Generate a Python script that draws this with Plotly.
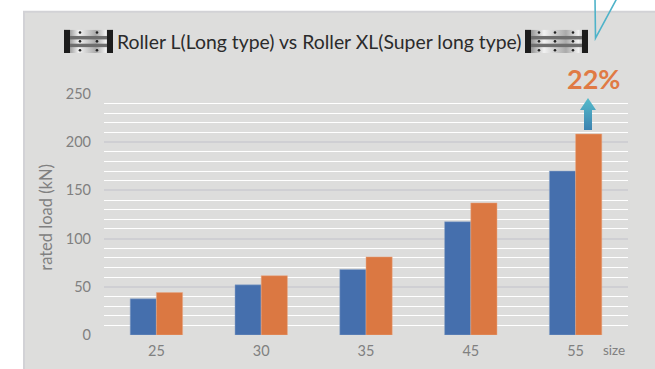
import base64
import plotly.graph_objects as go

W, H = 655, 369
L, R, T, B = 104, 628, 94, 335.5

sizes = ["25", "30", "35", "45", "55"]
roller_l = [37.5, 52, 68, 117.5, 170]
roller_xl = [44, 61.5, 81, 137, 208.5]
y_ticks = [0, 50, 100, 150, 200, 250]
title_text = "Roller L(Long type) vs Roller XL(Super long type)"
y_title = "rated load (kN)"
FONT = "Lato, 'Open Sans', sans-serif"


def px(x):
    return (x - L) / (R - L)


def py(y):
    return (B - y) / (B - T)


def svg_uri(svg):
    return "data:image/svg+xml;base64," + base64.b64encode(svg.encode()).decode()


def rail_icon(w, h, dot_xs):
    dots = "".join(
        f'<circle cx="{x}" cy="{y}" r="1.3" fill="#222"/>'
        for x in dot_xs for y in (3, h / 2, h - 3)
    )
    return svg_uri(
        f'<svg xmlns="http://www.w3.org/2000/svg" width="{w}" height="{h}" viewBox="0 0 {w} {h}">'
        '<defs><linearGradient id="g" x1="0" y1="0" x2="1" y2="0">'
        '<stop offset="0" stop-color="#666"/><stop offset="0.3" stop-color="#f2f2f2"/>'
        '<stop offset="0.65" stop-color="#aaa"/><stop offset="0.85" stop-color="#f0f0f0"/>'
        '<stop offset="1" stop-color="#888"/></linearGradient></defs>'
        f'<rect width="{w}" height="{h}" fill="url(#g)"/>'
        f'<rect y="{h*0.27}" width="{w}" height="3.5" fill="#6e6e6e"/>'
        f'<rect y="{h*0.60}" width="{w}" height="3.5" fill="#6e6e6e"/>'
        f'<rect width="6" height="{h}" fill="#1c1c1c"/>'
        f'<rect x="{w-6}" width="6" height="{h}" fill="#1c1c1c"/>'
        f'{dots}</svg>'
    )


arrow_svg = svg_uri(
    '<svg xmlns="http://www.w3.org/2000/svg" width="16" height="32" viewBox="0 0 16 32">'
    '<defs><linearGradient id="a" x1="0" y1="0" x2="0" y2="1">'
    '<stop offset="0" stop-color="#55bccb"/><stop offset="1" stop-color="#3c82b0"/></linearGradient></defs>'
    '<path d="M8 0 L16 12 L12 12 L12 32 L4 32 L4 12 L0 12 Z" fill="url(#a)"/></svg>'
)


def image(src, x0, y0, x1, y1):
    return dict(
        source=src, xref="paper", yref="paper", x=px(x0), y=py(y0),
        sizex=px(x1) - px(x0), sizey=py(y0) - py(y1),
        xanchor="left", yanchor="top", sizing="stretch", layer="above",
    )


def pshape(**k):
    return dict(xref="paper", yref="paper", layer="below", **k)


fig = go.Figure()
fig.add_bar(x=sizes, y=roller_l, name="Roller L", marker=dict(color="#456fad", line=dict(color="#8ea6c8", width=0.5)))
fig.add_bar(x=sizes, y=roller_xl, name="Roller XL", marker=dict(color="#db7842", line=dict(color="#e8a887", width=0.5)))

shapes = [
    pshape(type="rect", x0=px(23), x1=px(W + 5), y0=py(11), y1=py(H + 5),
           fillcolor="#dddddc", line=dict(width=0)),
    pshape(type="rect", x0=px(23), x1=px(W + 5), y0=py(10.5), y1=py(12.5),
           fillcolor="#d2d2d6", line=dict(width=0)),
    pshape(type="rect", x0=px(23), x1=px(25), y0=py(11), y1=py(H + 5),
           fillcolor="#d2d2d6", line=dict(width=0)),
    dict(type="path", xref="paper", yref="paper", layer="above",
         path=f"M {px(595)} {py(-2)} L {px(595.5)} {py(38)} L {px(617)} {py(-2)}",
         line=dict(color="#4fb3c9", width=1.6)),
]

annotations = [
    dict(text=title_text, xref="paper", yref="paper", x=px(319), y=py(41), showarrow=False,
         xanchor="center", yanchor="middle", font=dict(family=FONT, size=19.4, color="#2b2b2b")),
    dict(text="<b>22%</b>", xref="paper", yref="paper", x=px(593.5), y=py(78), showarrow=False,
         xanchor="center", yanchor="middle", font=dict(family=FONT, size=27, color="#e07a45")),
    dict(text="size", xref="paper", yref="paper", x=px(614), y=py(351), showarrow=False,
         xanchor="center", yanchor="middle", font=dict(family=FONT, size=13.5, color="#808080")),
    dict(text=y_title, xref="paper", yref="paper", x=px(46), y=py(218), showarrow=False,
         textangle=-90, xanchor="center", yanchor="middle",
         font=dict(family=FONT, size=16.5, color="#808080")),
]

images = [
    image(rail_icon(49, 24, [16, 33]), 64, 29.5, 113, 53),
    image(rail_icon(63, 24, [14, 30, 48]), 525, 29.5, 588, 53),
    image(arrow_svg, 580, 98, 596, 130),
]

fig.update_layout(
    width=W, height=H, autosize=False,
    margin=dict(l=L, r=W - R, t=T, b=H - B, pad=0, autoexpand=False),
    paper_bgcolor="#ffffff", plot_bgcolor="rgba(0,0,0,0)",
    barmode="group", bargap=0.5, bargroupgap=0, showlegend=False,
    font=dict(family=FONT, color="#808080", size=13),
    shapes=shapes, annotations=annotations, images=images,
    xaxis=dict(type="category", categoryorder="array", categoryarray=sizes, automargin=False,
               showgrid=False, zeroline=False, showline=False, ticks="", ticklabelstandoff=5,
               tickfont=dict(size=14.5, color="#808080")),
    yaxis=dict(range=[0, 250], tickvals=y_ticks, ticktext=[str(v) for v in y_ticks], automargin=False,
               showgrid=True, gridcolor="#cfcfd3", gridwidth=1.5, zeroline=False, showline=False,
               ticks="", ticklabelstandoff=12, tickfont=dict(size=14.5, color="#808080"),
               minor=dict(dtick=10, tick0=0, showgrid=True, gridcolor="#ffffff", gridwidth=1.4, ticks="")),
)

fig.write_html("out.html", config=dict(displayModeBar=False),
               post_script="document.body.style.margin='0';document.body.style.overflow='hidden';")
